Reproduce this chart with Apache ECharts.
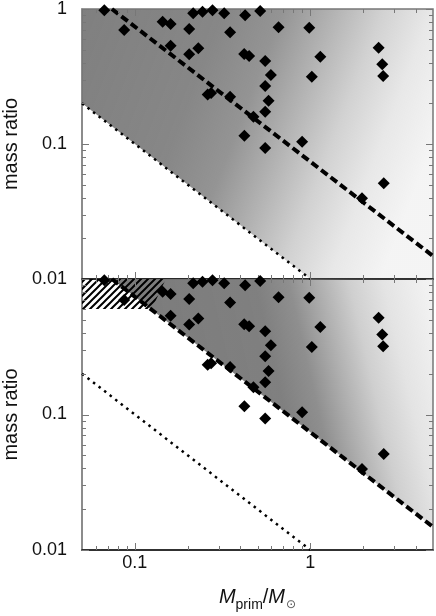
<!DOCTYPE html>
<html><head><meta charset="utf-8">
<script src="https://cdn.jsdelivr.net/npm/echarts@6/dist/echarts.min.js"></script>
<style>html,body{margin:0;padding:0;background:#fff}#c{width:436px;height:616px}</style>
</head><body><div id="c"></div>
<script>
// Observed binaries: primary mass (Msun) and mass ratio
const obsM = [0.067,0.087,0.215,0.243,0.277,0.323,0.425,0.518,0.144,0.160,0.204,0.349,0.659,0.160,0.230,0.204,0.420,0.448,0.553,0.596,0.553,0.578,0.260,0.272,0.349,0.553,0.474,0.421,0.553,0.986,1.14,1.02,2.45,2.57,2.60,0.898,2.62,1.97];
const obsQ = [0.98,0.70,0.93,0.955,0.98,0.93,0.90,0.965,0.805,0.774,0.711,0.672,0.732,0.535,0.511,0.462,0.464,0.448,0.412,0.324,0.269,0.209,0.233,0.239,0.224,0.173,0.159,0.115,0.0934,0.727,0.443,0.315,0.517,0.389,0.319,0.104,0.0512,0.0396];
// limit lines (endpoints)
const hbLineM = [0.074, 5];      // secondary mass ~0.075 Msun
const hbLineQ = [1, 0.0148];
const plLineM = [0.05, 1];       // secondary mass ~0.01 Msun
const plLineQ = [0.2, 0.01];
// simulated population extent (regions covered by grey dots)
const popTopM = [0.05, 5, 5, 1, 0.05];
const popTopQ = [1, 1, 0.01, 0.01, 0.2];
const popBotM = [0.074, 5, 5];
const popBotQ = [1, 1, 0.0148];
// hatched region (bottom panel)
const hatchM = [0.05, 0.15, 0.125, 0.05];
const hatchQ = [1, 1, 0.6, 0.6];
// tick values
const xMajor = [0.1, 1];
const xMinor = [0.06,0.07,0.08,0.09,0.2,0.3,0.4,0.5,0.6,0.7,0.8,0.9,2,3,4];
const yMajor = [0.01, 0.1, 1];
const yMinor = [0.02,0.03,0.04,0.05,0.06,0.07,0.08,0.09,0.2,0.3,0.4,0.5,0.6,0.7,0.8,0.9];

const zip = (a, b) => a.map((v, i) => [v, b[i]]);
const FONT = 'Liberation Sans, Arial, Helvetica, sans-serif';
const chart = echarts.init(document.getElementById('c'), null, {renderer: 'canvas'});

// hatch pattern tile
const tile = document.createElement('canvas');
tile.width = 7; tile.height = 7;
(function(){
  const c = tile.getContext('2d');
  c.strokeStyle = '#000'; c.lineWidth = 2;
  c.beginPath();
  c.moveTo(-1, 8); c.lineTo(8, -1);
  c.moveTo(-4.5, 4.5); c.lineTo(4.5, -4.5);
  c.moveTo(2.5, 11.5); c.lineTo(11.5, 2.5);
  c.stroke();
})();

function poly(idx, pts, fill, z) {
  return {
    type: 'custom', xAxisIndex: idx, yAxisIndex: idx, data: pts, z: z, silent: true,
    renderItem(params, api) {
      if (params.dataIndex !== 0) return null;
      return {type: 'polygon', shape: {points: pts.map(p => api.coord(p))}, style: {fill: fill}};
    }
  };
}
const grey = (a) => 'rgba(118,118,118,' + a + ')';
const topFill = new echarts.graphic.LinearGradient(0, 0, 1, 0.5, [
  {offset: 0, color: grey(0.93)}, {offset: 0.35, color: grey(0.88)}, {offset: 0.5, color: grey(0.78)},
  {offset: 0.63, color: grey(0.55)}, {offset: 0.75, color: grey(0.33)}, {offset: 0.87, color: grey(0.17)}, {offset: 1, color: grey(0.08)}]);
const botFill = new echarts.graphic.LinearGradient(0, 0, 1, -0.3, [
  {offset: 0, color: grey(0.96)}, {offset: 0.42, color: grey(0.93)}, {offset: 0.52, color: grey(0.82)},
  {offset: 0.61, color: grey(0.58)}, {offset: 0.7, color: grey(0.35)}, {offset: 0.8, color: grey(0.2)},
  {offset: 0.92, color: grey(0.1)}, {offset: 1, color: grey(0.07)}]);

function ticks(idx) {
  const xs = xMajor.map(v => [v, 1, 7]).concat(xMinor.map(v => [v, 1, 4]));
  const ys = yMajor.map(v => [1, v, 7]).concat(yMinor.map(v => [1, v, 4]));
  const st = {stroke: '#777', lineWidth: 1};
  return [{
    type: 'custom', xAxisIndex: idx, yAxisIndex: idx, data: xs, z: 6, silent: true, clip: false,
    renderItem(params, api) {
      const cs = params.coordSys; const x = Math.round(api.coord([api.value(0), 0.1])[0]) + 0.5; const L = api.value(2);
      return {type: 'group', children: [
        {type: 'line', shape: {x1: x, y1: cs.y + cs.height, x2: x, y2: cs.y + cs.height - L}, style: st},
        {type: 'line', shape: {x1: x, y1: cs.y, x2: x, y2: cs.y + L}, style: st}]};
    }
  }, {
    type: 'custom', xAxisIndex: idx, yAxisIndex: idx, data: ys, z: 6, silent: true, clip: false,
    renderItem(params, api) {
      const cs = params.coordSys; const y = Math.round(api.coord([0.1, api.value(1)])[1]) + 0.5; const L = api.value(2);
      return {type: 'group', children: [
        {type: 'line', shape: {x1: cs.x, y1: y, x2: cs.x + L, y2: y}, style: st},
        {type: 'line', shape: {x1: cs.x + cs.width, y1: y, x2: cs.x + cs.width - L, y2: y}, style: st}]};
    }
  }];
}
function lines(idx) {
  return [{
    type: 'line', xAxisIndex: idx, yAxisIndex: idx, data: zip(hbLineM, hbLineQ), symbol: 'none', z: 4, silent: true,
    lineStyle: {color: '#000', width: 4, type: [8, 4], cap: 'butt', opacity: 1}
  }, {
    type: 'line', xAxisIndex: idx, yAxisIndex: idx, data: zip(plLineM, plLineQ), symbol: 'none', z: 4, silent: true,
    lineStyle: {color: '#000', width: 2.5, type: [2.5, 4.5], cap: 'butt', opacity: 1}
  }];
}
function obs(idx) {
  return {type: 'scatter', xAxisIndex: idx, yAxisIndex: idx, data: zip(obsM, obsQ), symbol: 'diamond',
    symbolSize: 12, itemStyle: {color: '#000', opacity: 1}, z: 7, silent: true};
}
const near = (v, t) => Math.abs(Math.log10(v) - Math.log10(t)) < 1e-6;
const yFmt = (hideTop) => (v) => near(v, 1) ? (hideTop ? '' : '1') : near(v, 0.1) ? '0.1' : near(v, 0.01) ? '0.01' : '';
const xFmt = (v) => near(v, 1) ? '1' : near(v, 0.1) ? '0.1' : '';
const lbl = {fontFamily: FONT, fontSize: 18, color: '#111'};

const option = {
  animation: false,
  grid: [
    {left: 82, top: 9, width: 351, height: 270, outerBoundsMode: 'none', containLabel: false, show: true, borderColor: '#777', borderWidth: 1.5, backgroundColor: 'transparent'},
    {left: 82, top: 279, width: 351, height: 271, outerBoundsMode: 'none', containLabel: false, show: true, borderColor: '#777', borderWidth: 1.5, backgroundColor: 'transparent'}
  ],
  xAxis: [0, 1].map(i => ({
    type: 'log', logBase: 10, min: 0.05, max: 5, gridIndex: i,
    axisLine: {show: true, lineStyle: {color: '#111', width: 1.5}}, axisTick: {show: false}, splitLine: {show: false},
    axisLabel: Object.assign({show: i === 1, margin: 4, formatter: xFmt, showMinLabel: true, showMaxLabel: true}, lbl),
    name: i === 1 ? '{i|M}{s|prim}{n|/}{i|M}{o|⊙}' : '', nameLocation: 'middle', nameGap: 37,
    nameTextStyle: {fontFamily: FONT, rich: {
      i: {fontFamily: FONT, fontSize: 20, fontStyle: 'italic', color: '#111', verticalAlign: 'bottom', padding: [0, 0, 5, 0]},
      n: {fontFamily: FONT, fontSize: 20, color: '#111', verticalAlign: 'bottom', padding: [0, 0, 5, 0]},
      s: {fontFamily: FONT, fontSize: 14, color: '#111', verticalAlign: 'bottom'},
      o: {fontFamily: 'DejaVu Sans, sans-serif', fontSize: 12, color: '#555', verticalAlign: 'bottom', padding: [0, 0, 1, 1]}
    }}
  })),
  yAxis: [0, 1].map(i => ({
    type: 'log', logBase: 10, min: 0.01, max: 1, gridIndex: i,
    axisLine: {show: true, lineStyle: {color: '#888', width: 1.5}}, axisTick: {show: false}, splitLine: {show: false},
    axisLabel: Object.assign({margin: 15, formatter: yFmt(i === 1)}, lbl),
    name: 'mass ratio', nameLocation: 'middle', nameGap: 57, nameRotate: 90,
    nameTextStyle: {fontFamily: FONT, fontSize: 20, color: '#111'}
  })),
  series: [
    poly(0, zip(popTopM, popTopQ), topFill, 1),
    poly(1, zip(popBotM, popBotQ), botFill, 1),
    poly(1, zip(hatchM, hatchQ), {image: tile, repeat: 'repeat'}, 2),
    ...lines(0), ...lines(1),
    ...ticks(0), ...ticks(1),
    obs(0), obs(1)
  ]
};
chart.setOption(option);
</script></body></html>
